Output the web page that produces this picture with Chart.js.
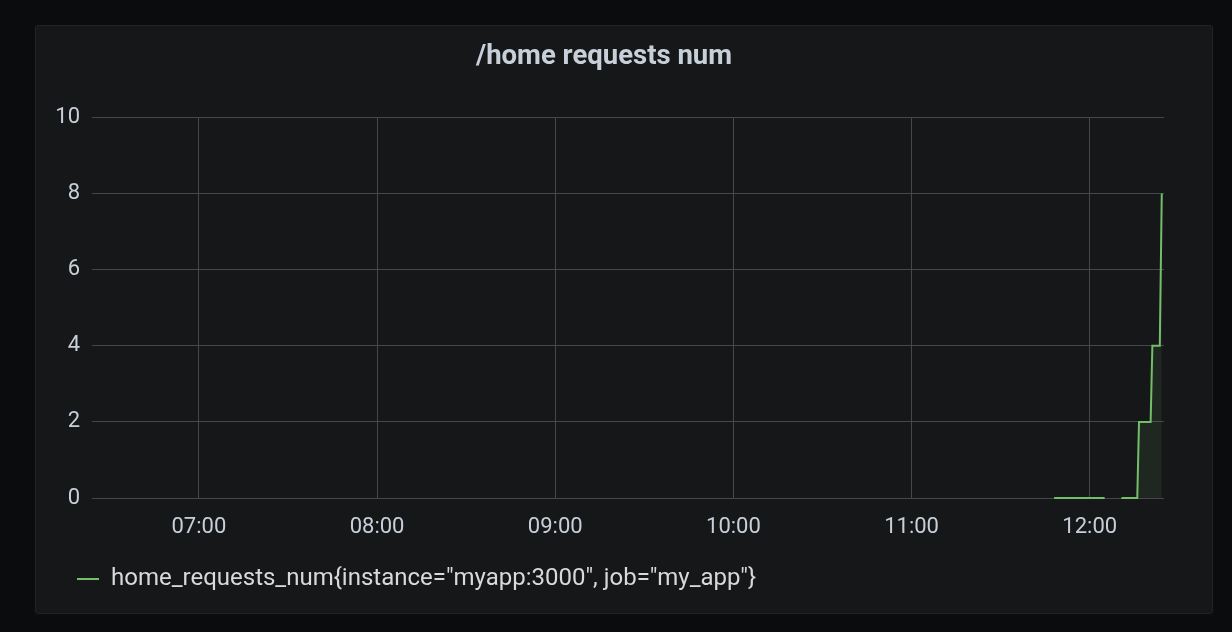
<!DOCTYPE html>
<html>
<head>
<meta charset="utf-8">
<title>/home requests num</title>
<script src="https://cdn.jsdelivr.net/npm/chart.js@4.4.1/dist/chart.umd.min.js"></script>
<style>
  html, body { margin: 0; padding: 0; background: #0b0c0e; width: 1232px; height: 632px; overflow: hidden; }
  #panel {
    position: absolute; left: 35px; top: 25px;
    width: 1176px; height: 587px;
    background: #161719; border: 1px solid #222327; border-radius: 3px;
  }
</style>
</head>
<body>
<div id="panel"><canvas id="requestsChart"></canvas></div>
<script>
// Series samples (time of day) and values, null = gap in the scrape
const sampleTimes = ["11:48:00", "12:05:00", "12:05:30", "12:10:40", "12:16:00", "12:16:35", "12:20:30", "12:21:05", "12:23:35", "12:24:15"];
const requestCounts = [0, 0, null, 0, 0, 2, 2, 4, 4, 8];
const hourTicks = ["07:00", "08:00", "09:00", "10:00", "11:00", "12:00"];
const yTicks = [0, 2, 4, 6, 8, 10];
const seriesName = 'home_requests_num{instance="myapp:3000", job="my_app"}';
const rangeStart = "06:24:00";
const rangeEnd = "12:25:00";

// "HH:MM[:SS]" -> minutes since midnight
function toMinutes(t) {
  let p = t.split(":").map(Number);
  return p[0] * 60 + p[1] + (p[2] || 0) / 60;
}
function fmtMinutes(m) {
  let h = Math.floor(m / 60), mm = Math.round(m % 60);
  return String(h).padStart(2, "0") + ":" + String(mm).padStart(2, "0");
}

const lineColor = "#73bf69";
const textColor = "#d8d9da";
const tickColor = "#c7d0d9";
const gridColor = "#46474b";

let points = sampleTimes.map((t, i) => ({ x: toMinutes(t), y: requestCounts[i] }));

let ctx = document.getElementById("requestsChart").getContext("2d");
let requestsChart = new Chart(ctx, {
  type: "line",
  data: {
    datasets: [{
      label: seriesName,
      data: points,
      borderColor: lineColor,
      backgroundColor: "rgba(115,191,105,0.10)",
      borderWidth: 2,
      pointRadius: 0,
      fill: "origin",
      tension: 0,
      spanGaps: false,
      clip: false,
    }],
  },
  options: {
    responsive: true,
    maintainAspectRatio: false,
    animation: false,
    layout: { padding: { left: 8, right: 48, top: 0, bottom: 12 } },
    plugins: {
      title: {
        display: true,
        text: "/home requests num",
        color: tickColor,
        font: { family: "Roboto", size: 27.5, weight: "bold" },
        padding: { top: 15, bottom: 43.5 },
      },
      legend: {
        position: "bottom",
        align: "start",
        labels: {
          color: textColor,
          font: { family: "Roboto", size: 24 },
          usePointStyle: true,
          pointStyle: "line",
          pointStyleWidth: 22,
          boxHeight: 2,
          padding: 33,
          generateLabels: (chart) => Chart.defaults.plugins.legend.labels.generateLabels(chart)
            .map(l => Object.assign(l, { strokeStyle: lineColor, fillStyle: lineColor, lineWidth: 2, pointStyle: "line" })),
        },
      },
      tooltip: { enabled: false },
    },
    scales: {
      x: {
        type: "linear",
        min: toMinutes(rangeStart),
        max: toMinutes(rangeEnd),
        afterBuildTicks: (scale) => { scale.ticks = hourTicks.map(t => ({ value: toMinutes(t) })); },
        afterFit: (scale) => { scale.height = 36; },
        ticks: {
          color: tickColor,
          font: { family: "Roboto", size: 22 },
          padding: 16,
          maxRotation: 0,
          callback: (v) => fmtMinutes(v),
        },
        grid: { color: gridColor, drawTicks: false, lineWidth: 1 },
        border: { display: false },
      },
      y: {
        min: 0,
        max: 10,
        afterBuildTicks: (scale) => { scale.ticks = yTicks.map(v => ({ value: v })); },
        afterFit: (scale) => { scale.width = 48; },
        ticks: {
          color: tickColor,
          font: { family: "Roboto", size: 22 },
          padding: 12,
        },
        grid: { color: gridColor, drawTicks: false, lineWidth: 1 },
        border: { display: false },
      },
    },
  },
});
</script>
</body>
</html>
